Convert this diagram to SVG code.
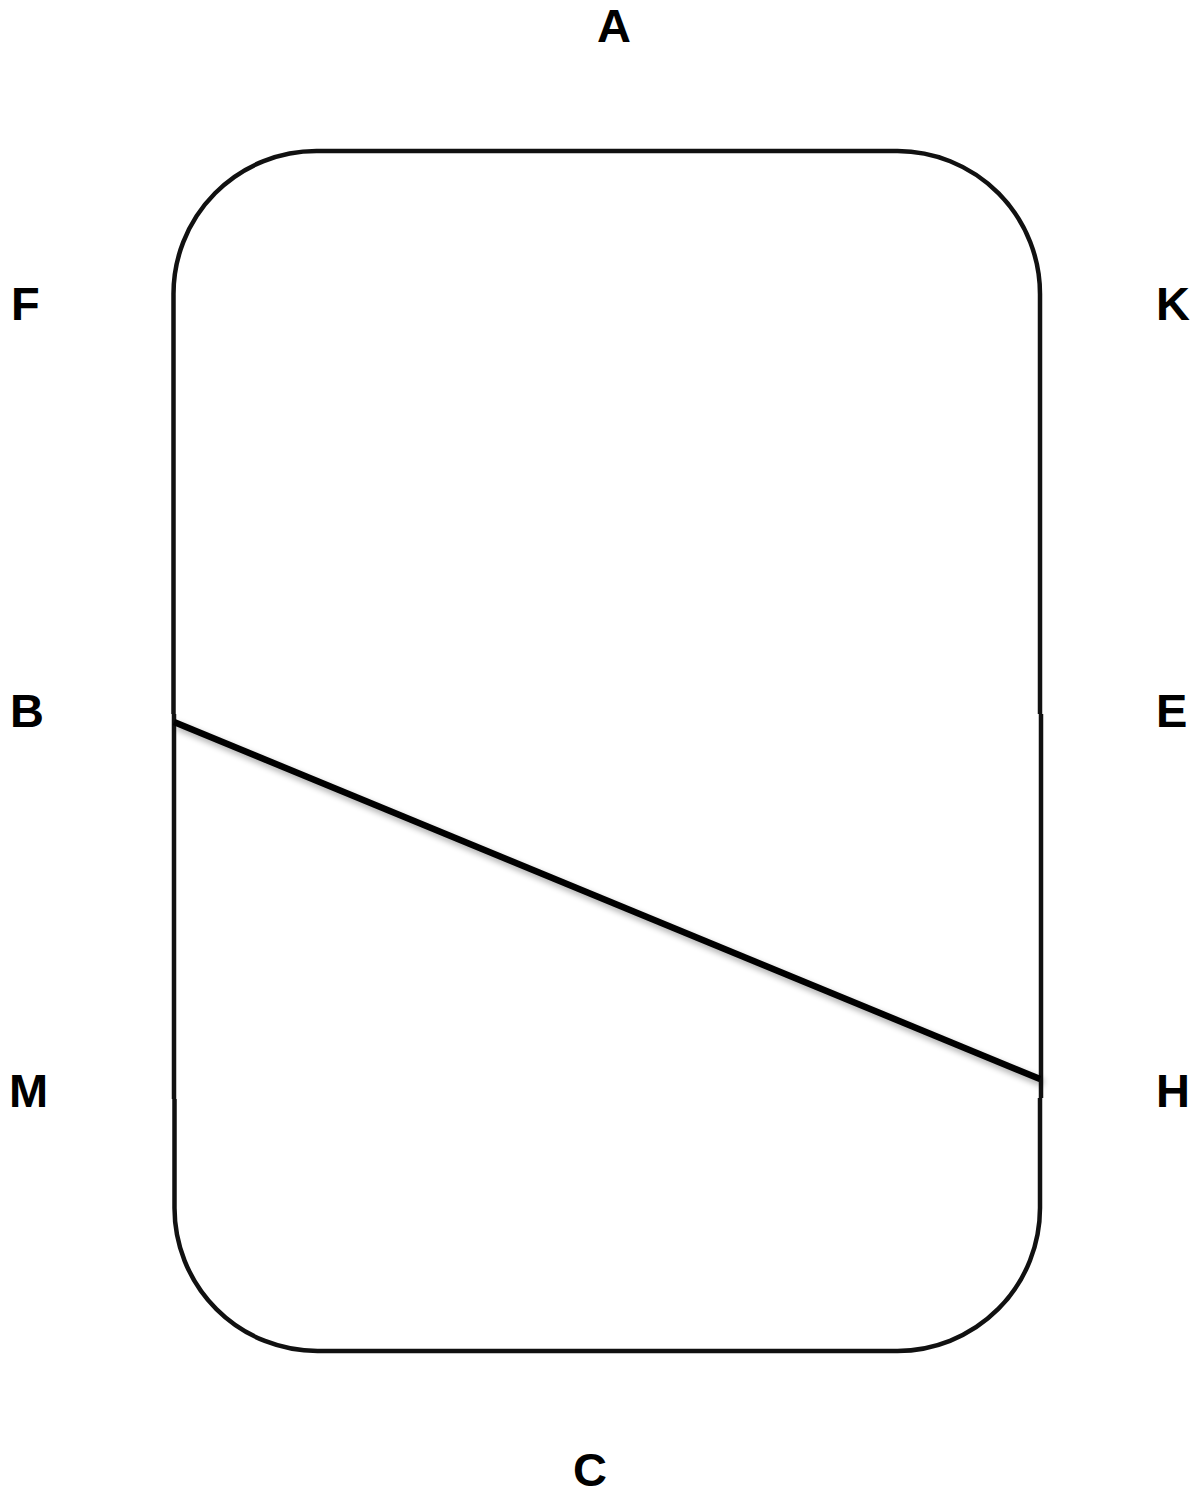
<svg xmlns="http://www.w3.org/2000/svg" width="1197" height="1494" viewBox="0 0 1197 1494">
<style>
.lbl{font-family:"Liberation Sans",Arial,sans-serif;font-weight:bold;font-size:47px;fill:#000}
.edge{fill:none;stroke:#111;stroke-width:4.5}
</style>
<defs>
<filter id="sh" x="-5%" y="-20%" width="110%" height="140%">
<feGaussianBlur in="SourceAlpha" stdDeviation="3"/>
<feOffset dx="3" dy="4" result="b"/>
<feComponentTransfer><feFuncA type="linear" slope="0.35"/></feComponentTransfer>
<feMerge><feMergeNode/><feMergeNode in="SourceGraphic"/></feMerge>
</filter>
</defs>
<rect width="1197" height="1494" fill="#fff"/>
<g id="frame">
<path class="edge" d="M173.5,714 L173.5,295 A143,143 0 0 1 316.5,151 L897.5,151 A143,143 0 0 1 1040,295 L1040,714"/>
<path class="edge" d="M174,714 L174,1099"/>
<path class="edge" d="M1041,714 L1041,1098"/>
<path class="edge" d="M174.5,1099 L174.5,1208 A143,143 0 0 0 317.5,1351 L897.5,1351 A143,143 0 0 0 1040,1208 L1040,1098"/>
</g>
<g id="connectors">
<line x1="174" y1="722" x2="1040" y2="1079" stroke="#000" stroke-width="6.5" filter="url(#sh)"/>
</g>
<g id="label-A"><text class="lbl" x="614" y="42" text-anchor="middle">A</text></g>
<g id="label-F"><text class="lbl" x="11" y="320">F</text></g>
<g id="label-K"><text class="lbl" x="1156" y="320">K</text></g>
<g id="label-B"><text class="lbl" x="10" y="727">B</text></g>
<g id="label-E"><text class="lbl" x="1156" y="727">E</text></g>
<g id="label-M"><text class="lbl" x="9" y="1107">M</text></g>
<g id="label-H"><text class="lbl" x="1156" y="1107">H</text></g>
<g id="label-C"><text class="lbl" x="590" y="1486" text-anchor="middle">C</text></g>
</svg>
